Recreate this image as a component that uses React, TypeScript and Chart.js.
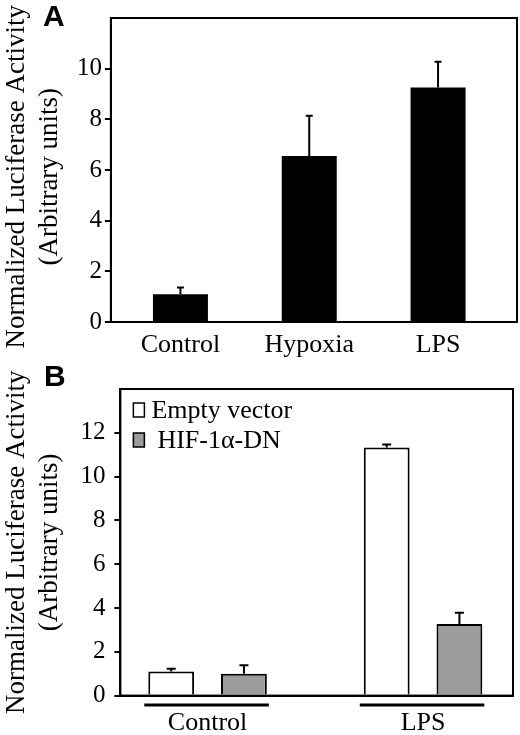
import { useEffect, useRef } from 'react'
import { Chart, registerables } from 'chart.js'

Chart.register(...registerables)

const SERIF = '"Liberation Serif", "Times New Roman", serif'
const SANS = '"Liberation Sans", Arial, sans-serif'

// panel A
const A_LABELS = ['Control', 'Hypoxia', 'LPS']
const A_MEANS = [1.09, 6.55, 9.26]
const A_ERR = [0.27, 1.59, 1.01]

// panel B
const B_LABELS = ['Control', 'LPS']
const B_SERIES = ['Empty vector', 'HIF-1α-DN']
const B_EMPTY = [1.1, 11.33]
const B_EMPTY_ERR = [0.12, 0.14]
const B_DN = [1.0, 3.27]
const B_DN_ERR = [0.38, 0.51]

const Y_TITLE = ['Normalized Luciferase Activity', '(Arbitrary units)']

Chart.defaults.color = '#000'
Chart.defaults.font.family = SERIF

// box round the plot area
const frame = {
  id: 'frame',
  afterDraw(chart: any) {
    const { ctx, chartArea: a } = chart
    ctx.save()
    ctx.strokeStyle = '#000'
    ctx.lineWidth = 2
    ctx.strokeRect(a.left, a.top, a.right - a.left, a.bottom - a.top)
    ctx.restore()
  },
}

// upper error bars, read from dataset.errors
const errorBars = {
  id: 'errorBars',
  afterDatasetsDraw(chart: any, _args: any, opts: any) {
    const { ctx } = chart
    const y = chart.scales.y
    ctx.save()
    ctx.strokeStyle = '#000'
    ctx.lineWidth = 2
    chart.data.datasets.forEach((ds: any, di: number) => {
      if (!ds.errors) return
      chart.getDatasetMeta(di).data.forEach((bar: any, i: number) => {
        const top = y.getPixelForValue(ds.data[i].y + ds.errors[i])
        const half = (opts.cap || 7) / 2
        ctx.beginPath()
        ctx.moveTo(bar.x, bar.y)
        ctx.lineTo(bar.x, top)
        ctx.moveTo(bar.x - half, top)
        ctx.lineTo(bar.x + half, top)
        ctx.stroke()
      })
    })
    ctx.restore()
  },
}

// line under each group of bars
const groupLines = {
  id: 'groupLines',
  afterDraw(chart: any) {
    const { ctx, chartArea } = chart
    const first = chart.getDatasetMeta(0).data
    const last = chart.getDatasetMeta(chart.data.datasets.length - 1).data
    const y = chartArea.bottom + 9.5
    ctx.save()
    ctx.strokeStyle = '#000'
    ctx.lineWidth = 3
    first.forEach((bar: any, i: number) => {
      ctx.beginPath()
      ctx.moveTo(bar.x - bar.width / 2 - 4, y)
      ctx.lineTo(last[i].x + last[i].width / 2 + 2, y)
      ctx.stroke()
    })
    ctx.restore()
  },
}

// legend drawn inside the plot, top left
const insideLegend = {
  id: 'insideLegend',
  afterDraw(chart: any) {
    const { ctx, chartArea } = chart
    ctx.save()
    ctx.font = `26px ${SERIF}`
    ctx.textBaseline = 'middle'
    chart.data.datasets.forEach((ds: any, i: number) => {
      const cy = chartArea.top + 21 + i * 30
      const bx = chartArea.left + 13
      ctx.fillStyle = ds.backgroundColor
      ctx.fillRect(bx, cy - 7, 11, 14)
      ctx.strokeStyle = '#000'
      ctx.lineWidth = 1.5
      ctx.strokeRect(bx, cy - 7, 11, 14)
      ctx.fillStyle = '#000'
      ctx.fillText(ds.label, bx + 11 + 7 + i * 6, cy + 1)
    })
    ctx.restore()
  },
}

function yAxis(max: number, tickPad: number, titlePad: number, title: string[]) {
  return {
    min: 0,
    max,
    afterBuildTicks: (s: any) => {
      s.ticks = s.ticks.filter((t: any) => t.value < max)
    },
    ticks: { stepSize: 2, padding: tickPad, color: '#000', font: { family: SERIF, size: 25 } },
    grid: { drawOnChartArea: false, drawTicks: true, tickLength: 6, color: '#000', lineWidth: 2 },
    border: { display: true, color: '#000', width: 2 },
    title: {
      display: true,
      text: title,
      color: '#000',
      font: { family: SERIF, size: 27, lineHeight: 1.22 },
      padding: { top: 0, bottom: titlePad },
    },
  }
}

function xAxis(labels: string[], min: number, max: number, pad: number) {
  return {
    type: 'linear' as const,
    min,
    max,
    offset: false,
    afterBuildTicks: (s: any) => {
      s.ticks = labels.map((_, i) => ({ value: i }))
    },
    grid: { display: false, drawTicks: false },
    border: { display: true, color: '#000', width: 2 },
    ticks: {
      autoSkip: false,
      maxRotation: 0,
      padding: pad,
      color: '#000',
      font: { family: SERIF, size: 26, lineHeight: 0.77 },
      callback: (v: any) => labels[v] ?? '',
    },
  }
}

function PanelA() {
  const ref = useRef<HTMLCanvasElement>(null)

  useEffect(() => {
    if (!ref.current) return
    const chart = new Chart(ref.current, {
      type: 'bar',
      data: {
        datasets: [
          {
            label: 'Activity',
            data: A_MEANS.map((y, i) => ({ x: i, y })),
            errors: A_ERR,
            backgroundColor: '#000',
            borderWidth: 0,
            categoryPercentage: 1,
            barPercentage: 0.427,
          } as any,
        ],
      },
      options: {
        responsive: false,
        animation: false,
        layout: { padding: { top: 12, right: 3, bottom: 0, left: 0 } },
        plugins: {
          legend: { display: false },
          tooltip: { enabled: false },
          errorBars: { cap: 7 },
        } as any,
        scales: {
          x: xAxis(A_LABELS, -0.54, 2.613, 13.5),
          // trailing spaces nudge the centred title down a little
          y: yAxis(12, 3, 8, Y_TITLE.map((t) => t + '  ')),
        } as any,
      },
      plugins: [errorBars, frame],
    })
    return () => chart.destroy()
  }, [])

  return <canvas ref={ref} width={520} height={369} style={{ position: 'absolute', left: 0, top: 0 }} />
}

function PanelB() {
  const ref = useRef<HTMLCanvasElement>(null)

  useEffect(() => {
    if (!ref.current) return
    const common = {
      borderColor: '#000',
      borderWidth: 2,
      categoryPercentage: 0.675,
      barPercentage: 0.63,
    }
    const chart = new Chart(ref.current, {
      type: 'bar',
      data: {
        datasets: [
          {
            label: B_SERIES[0],
            data: B_EMPTY.map((y, i) => ({ x: i, y })),
            errors: B_EMPTY_ERR,
            backgroundColor: '#fff',
            ...common,
          } as any,
          {
            label: B_SERIES[1],
            data: B_DN.map((y, i) => ({ x: i, y })),
            errors: B_DN_ERR,
            backgroundColor: '#9c9c9c',
            ...common,
          } as any,
        ],
      },
      options: {
        responsive: false,
        animation: false,
        layout: { padding: { top: 14, right: 7, bottom: 0, left: 0 } },
        plugins: {
          legend: { display: false },
          tooltip: { enabled: false },
          errorBars: { cap: 9 },
        } as any,
        scales: {
          x: xAxis(B_LABELS, -0.4046, 1.4174, 17.7),
          y: yAxis(14, 9, 5.5, Y_TITLE),
        } as any,
      },
      plugins: [errorBars, groupLines, frame, insideLegend],
    })
    return () => chart.destroy()
  }, [])

  return <canvas ref={ref} width={520} height={386} style={{ position: 'absolute', left: 0, top: 365 }} />
}

const letter = {
  position: 'absolute' as const,
  fontFamily: SANS,
  fontWeight: 700,
  fontSize: 30,
  lineHeight: 1,
  color: '#000',
}

export default function App() {
  useEffect(() => {
    document.body.style.margin = '0'
  }, [])

  return (
    <div style={{ position: 'relative', width: 520, height: 735, background: '#fff', overflow: 'hidden' }}>
      <PanelA />
      <PanelB />
      <div style={{ ...letter, left: 43, top: 1 }}>A</div>
      <div style={{ ...letter, left: 44, top: 361 }}>B</div>
    </div>
  )
}
